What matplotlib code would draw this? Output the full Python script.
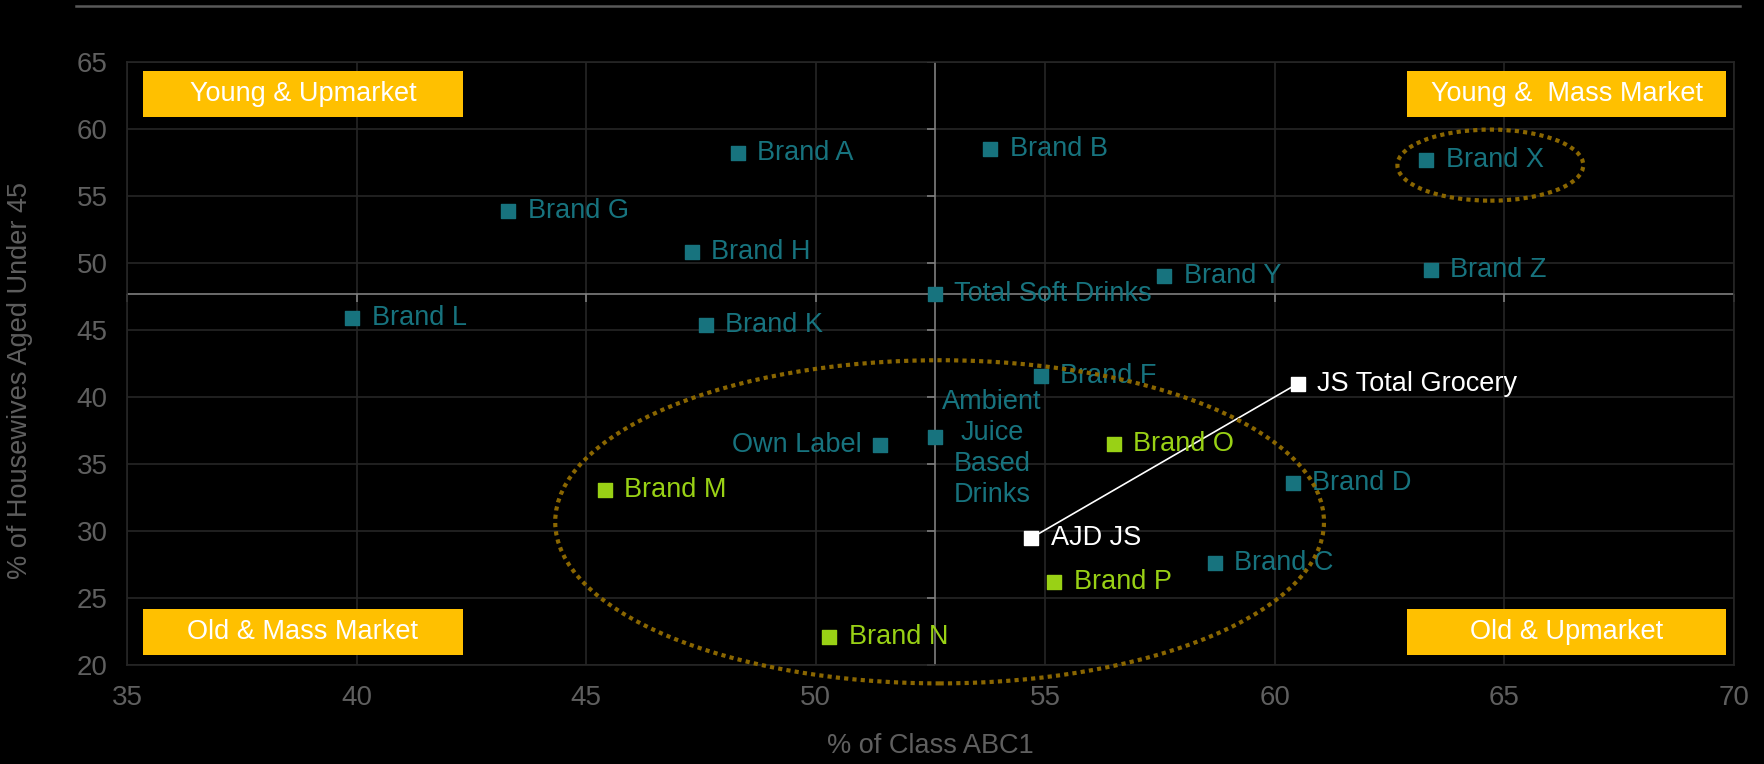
import matplotlib.pyplot as plt
from matplotlib.patches import Ellipse, Rectangle
from matplotlib.lines import Line2D

plt.rcParams['font.family'] = ['Liberation Sans', 'DejaVu Sans']

# brands: % ABC1 (x) and % housewives under 45 (y)
teal_names = ['Brand A', 'Brand B', 'Brand G', 'Brand H', 'Brand X', 'Brand Z',
              'Brand Y', 'Total Soft Drinks', 'Brand L', 'Brand K', 'Brand F',
              'Own Label', 'Ambient\nJuice\nBased\nDrinks', 'Brand D', 'Brand C']
teal_x = [48.3, 53.8, 43.3, 47.3, 63.3, 63.4, 57.6, 52.6, 39.9, 47.6, 54.9,
          51.4, 52.6, 60.4, 58.7]
teal_y = [58.2, 58.5, 53.9, 50.8, 57.7, 49.5, 49.0, 47.7, 45.9, 45.4, 41.6,
          36.4, 37.0, 33.6, 27.6]

lime_names = ['Brand O', 'Brand M', 'Brand P', 'Brand N']
lime_x = [56.5, 45.4, 55.2, 50.3]
lime_y = [36.5, 33.1, 26.2, 22.1]

js_names = ['JS Total Grocery', 'AJD JS']
js_x = [60.5, 54.7]
js_y = [41.0, 29.5]

quadrants = ['Young & Upmarket', 'Young &  Mass Market',
             'Old & Mass Market', 'Old & Upmarket']

teal = '#17737e'
lime = '#99d115'
gold = '#8a6600'
grid = '#262626'
grey = '#5f5f5f'
divider = '#7f7f7f'
fs = 19.5

fig = plt.figure(figsize=(17.65, 7.64), dpi=100, facecolor='black')
ax = fig.add_axes([0.0721, 0.1292, 0.9101, 0.7898], facecolor='black')

ax.set_xlim(35, 70)
ax.set_ylim(20, 65)
ax.set_xticks(range(35, 71, 5))
ax.set_yticks(range(20, 66, 5))
ax.grid(True, color=grid, lw=1.2)
ax.set_axisbelow(True)
for s in ax.spines.values():
    s.set_color(grid)
    s.set_linewidth(1.2)
ax.tick_params(colors=grey, labelsize=20, length=0, pad=14)

# quadrant dividers through Total Soft Drinks
tsd_x, tsd_y = teal_x[7], teal_y[7]
ax.axvline(tsd_x, color=divider, lw=1.2, zorder=1)
ax.axhline(tsd_y, color=divider, lw=1.2, zorder=1)
ax.plot([tsd_x] * 10, list(range(20, 66, 5)), ls='none', marker=0,
        ms=6, mec=divider, mew=1.2, zorder=1)
ax.plot(list(range(35, 71, 5)), [tsd_y] * 8, ls='none', marker=3,
        ms=6, mec=divider, mew=1.2, zorder=1, clip_on=False)

# JS line
ax.plot(js_x, js_y, color='white', lw=1.2, zorder=2)

ax.scatter(teal_x, teal_y, marker='s', s=95, color=teal, zorder=3)
ax.scatter(lime_x, lime_y, marker='s', s=95, color=lime, zorder=3)
ax.scatter(js_x, js_y, marker='s', s=95, color='white', zorder=3)

def label(names, xs, ys, color):
    for n, x, y in zip(names, xs, ys):
        if n == 'Own Label':
            ax.annotate(n, (x, y), xytext=(-13, 0), textcoords='offset points',
                        ha='right', va='center', color=color, fontsize=fs)
        elif n.startswith('Ambient'):
            ax.annotate(n, (x, y), xytext=(41, -8), textcoords='offset points',
                        ha='center', va='center', color=color, fontsize=fs,
                        multialignment='center', linespacing=1.25)
        else:
            ax.annotate(n, (x, y), xytext=(14, 0), textcoords='offset points',
                        ha='left', va='center', color=color, fontsize=fs)

label(teal_names, teal_x, teal_y, teal)
label(lime_names, lime_x, lime_y, lime)
label(js_names, js_x, js_y, 'white')

# dotted rings
ax.add_patch(Ellipse((52.7, 30.7), 16.75, 24.1, fill=False, ec=gold, lw=3,
                     ls=(0, (1, 1)), zorder=4, clip_on=False))
ax.add_patch(Ellipse((64.7, 57.3), 4.05, 5.3, fill=False, ec=gold, lw=3,
                     ls=(0, (1, 1)), zorder=4))

# quadrant boxes
box_pos = [(0.0098, 0.9086), (0.7965, 0.9086), (0.0098, 0.017), (0.7965, 0.017)]
for q, (bx, by) in zip(quadrants, box_pos):
    ax.add_patch(Rectangle((bx, by), 0.199, 0.0765, transform=ax.transAxes,
                           facecolor='#ffc000', edgecolor='none', zorder=5))
    ax.text(bx + 0.0995, by + 0.0383, q, transform=ax.transAxes, ha='center',
            va='center', color='white', fontsize=fs, zorder=6)

fig.text(0.0113, 0.502, '% of Housewives Aged Under 45', rotation=90,
         ha='center', va='center', color=grey, fontsize=fs)
fig.text(0.527, 0.0236, '% of Class ABC1', ha='center', va='center',
         color=grey, fontsize=fs)

fig.add_artist(Line2D([0.0433, 0.9856], [0.9927, 0.9927], color='#595959',
                      lw=1.8, transform=fig.transFigure))

fig.savefig('out.png', dpi=100, facecolor='black')
